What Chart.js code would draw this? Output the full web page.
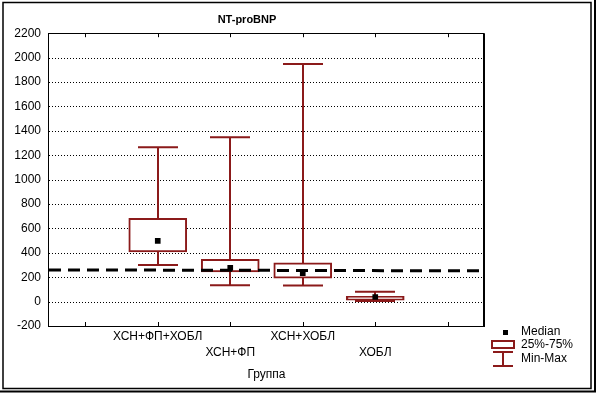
<!DOCTYPE html>
<html>
<head>
<meta charset="utf-8">
<script src="https://cdn.jsdelivr.net/npm/chart.js@4/dist/chart.umd.min.js"></script>
<style>
html, body { margin: 0; padding: 0; background: #fff; }
#wrap { width: 597px; height: 396px; position: relative; }
</style>
</head>
<body>
<div id="wrap"><canvas id="boxChart" width="597" height="396"></canvas></div>
<script>
// Box plot values (NT-proBNP by group), first and last slots are empty
const groups = ['', 'ХСН+ФП+ХОБЛ', 'ХСН+ФП', 'ХСН+ХОБЛ', 'ХОБЛ', ''];
const minVals = [null, 299, 134, 132, 4, null];
const q1Vals = [null, 408, 244, 192, 12, null];
const medianVals = [null, 498, 277, 234, 38, null];
const q3Vals = [null, 682, 347, 318, 44, null];
const maxVals = [null, 1266, 1347, 1948, 80, null];
// dashed reference line, value at left and right edge
const refLine = [260, 252];
const yTickValues = [-200, 0, 200, 400, 600, 800, 1000, 1200, 1400, 1600, 1800, 2000, 2200];
const legendItems = ['Median', '25%-75%', 'Min-Max'];

const maroon = '#8b1a1a';
const fontFamily = '"Liberation Sans", Arial, sans-serif';

const boxPlotExtras = {
    id: 'boxPlotExtras',
    beforeDatasetsDraw(chart) {
        const { ctx, chartArea, scales: { x, y } } = chart;
        ctx.save();
        // dotted horizontal grid
        ctx.strokeStyle = '#000';
        ctx.lineWidth = 1;
        ctx.setLineDash([1, 2]);
        ctx.beginPath();
        yTickValues.forEach(v => {
            if (v === y.min || v === y.max) return;
            const py = Math.round(y.getPixelForValue(v)) + 0.5;
            ctx.moveTo(chartArea.left, py); ctx.lineTo(chartArea.right, py);
        });
        ctx.stroke();
        ctx.setLineDash([]);
        // whiskers
        ctx.strokeStyle = maroon;
        ctx.lineWidth = 2;
        groups.forEach((g, i) => {
            if (maxVals[i] == null) return;
            const px = Math.round(x.getPixelForValue(i));
            const yMin = y.getPixelForValue(minVals[i]);
            const yMax = y.getPixelForValue(maxVals[i]);
            ctx.beginPath();
            ctx.moveTo(px, yMax); ctx.lineTo(px, yMin);
            ctx.moveTo(px - 20, yMax); ctx.lineTo(px + 20, yMax);
            ctx.moveTo(px - 20, yMin); ctx.lineTo(px + 20, yMin);
            ctx.stroke();
        });
        ctx.restore();
    },
    afterDatasetsDraw(chart) {
        const { ctx, chartArea, scales: { y } } = chart;
        ctx.save();
        ctx.strokeStyle = '#000';
        ctx.lineWidth = 3;
        ctx.setLineDash([12, 7]);
        ctx.beginPath();
        ctx.moveTo(chartArea.left, y.getPixelForValue(refLine[0]));
        ctx.lineTo(chartArea.right + 2, y.getPixelForValue(refLine[1]));
        ctx.stroke();
        ctx.restore();
    },
    afterDraw(chart) {
        const { ctx, chartArea, scales: { x } } = chart;
        const { left, right, top, bottom } = chartArea;
        ctx.save();
        // plot frame
        ctx.strokeStyle = '#000';
        ctx.lineWidth = 1;
        ctx.strokeRect(Math.round(left) - 0.5, Math.round(top) + 0.5, Math.round(right - left), Math.round(bottom - top));
        ctx.lineWidth = 2;
        ctx.beginPath();
        ctx.moveTo(Math.round(right), top); ctx.lineTo(Math.round(right), bottom + 1);
        ctx.stroke();
        // inward ticks top and bottom
        ctx.lineWidth = 1;
        ctx.beginPath();
        groups.forEach((g, i) => {
            const px = Math.round(x.getPixelForValue(i)) + 0.5;
            ctx.moveTo(px, top); ctx.lineTo(px, top + 4);
            ctx.moveTo(px, bottom); ctx.lineTo(px, bottom - 4);
        });
        ctx.stroke();

        // legend
        ctx.font = '12px ' + fontFamily;
        ctx.fillStyle = '#000';
        ctx.textBaseline = 'middle';
        ctx.textAlign = 'left';
        ctx.fillRect(503, 330, 5, 5);
        ctx.fillText(legendItems[0], 521, 332);
        ctx.strokeStyle = maroon;
        ctx.lineWidth = 2;
        ctx.strokeRect(492, 341, 22, 7);
        ctx.fillText(legendItems[1], 521, 345);
        ctx.beginPath();
        ctx.moveTo(493, 352); ctx.lineTo(513, 352);
        ctx.moveTo(503, 352); ctx.lineTo(503, 366);
        ctx.moveTo(493, 366); ctx.lineTo(513, 366);
        ctx.stroke();
        ctx.fillText(legendItems[2], 521, 359);

        // picture frame
        ctx.strokeStyle = '#000';
        ctx.lineWidth = 1.5;
        ctx.strokeRect(3, 2.5, 588, 386);
        ctx.lineWidth = 2;
        ctx.beginPath();
        ctx.moveTo(595, 0); ctx.lineTo(595, 392);
        ctx.moveTo(0, 391.5); ctx.lineTo(596, 391.5);
        ctx.stroke();
        ctx.restore();
    }
};

const ctxBox = document.getElementById('boxChart').getContext('2d');
new Chart(ctxBox, {
    type: 'bar',
    data: {
        labels: groups,
        datasets: [{
            type: 'line',
            label: 'Median',
            data: medianVals,
            showLine: false,
            pointStyle: 'rect',
            pointRadius: 4,
            pointBackgroundColor: '#000',
            pointBorderWidth: 0,
            order: 0
        }, {
            label: '25%-75%',
            data: q1Vals.map((v, i) => v == null ? null : [v, q3Vals[i]]),
            backgroundColor: '#fff',
            borderColor: maroon,
            borderWidth: 2,
            borderSkipped: false,
            barThickness: 58,
            grouped: false,
            order: 1
        }]
    },
    options: {
        responsive: false,
        animation: false,
        layout: { padding: { left: 10, right: 113, top: 0, bottom: 14 } },
        scales: {
            x: {
                grid: { display: false, drawTicks: false },
                border: { display: false },
                ticks: {
                    autoSkip: false,
                    maxRotation: 0,
                    padding: 3,
                    color: '#000',
                    font: { family: fontFamily, size: 12, lineHeight: 16 / 12 },
                    callback: (v, i) => (i % 2 === 0 ? ['', groups[i]] : [groups[i]])
                },
                title: {
                    display: true,
                    text: 'Группа',
                    color: '#000',
                    padding: 0,
                    font: { family: fontFamily, size: 12 }
                },
                afterFit: s => { s.height = 56; }
            },
            y: {
                min: -200,
                max: 2200,
                afterBuildTicks: s => { s.ticks = yTickValues.map(v => ({ value: v })); },
                grid: { display: false, drawTicks: false },
                border: { display: false },
                ticks: {
                    padding: 8,
                    color: '#000',
                    font: { family: fontFamily, size: 12 },
                    callback: v => String(v)
                },
                afterFit: s => { s.width = 39; }
            }
        },
        plugins: {
            legend: { display: false },
            tooltip: { enabled: false },
            title: {
                display: true,
                text: 'NT-proBNP',
                color: '#000',
                font: { family: fontFamily, size: 11, weight: 'bold' },
                padding: { top: 13, bottom: 7 }
            }
        }
    },
    plugins: [boxPlotExtras]
});
</script>
</body>
</html>
